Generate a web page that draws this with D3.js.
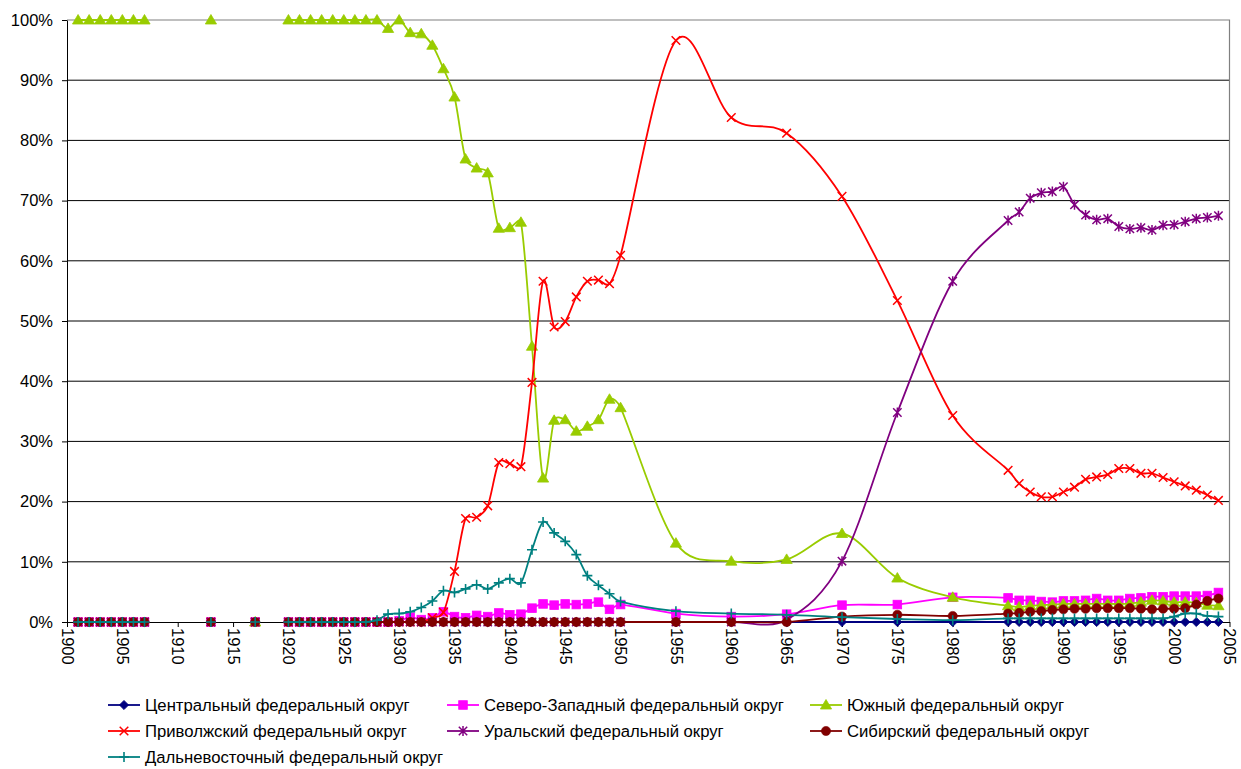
<!DOCTYPE html>
<html>
<head>
<meta charset="utf-8">
<script src="https://cdn.jsdelivr.net/npm/d3@7"></script>
<style>
  html, body { margin: 0; padding: 0; background: #fff; }
  svg { display: block; font-family: "Liberation Sans", Arial, sans-serif; }
</style>
</head>
<body>
<svg id="chart" width="1241" height="769"></svg>
<script>
const N = null;
// Years (rows with null = empty cells in the source table)
const years = [1901,1902,1903,1904,1905,1906,1907,1908,1909,1910,1911,1912,1913,1914,1915,1916,1917,1918,1919,
  1920,1921,1922,1923,1924,1925,1926,1927,1928,1929,1930,1931,1932,1933,1934,1935,1936,1937,1938,1939,1940,
  1941,1942,1943,1944,1945,1946,1947,1948,1949,1950,
  1955,1960,1965,1970,1975,1980,
  1985,1986,1987,1988,1989,1990,1991,1992,1993,1994,1995,1996,1997,1998,1999,2000,2001,2002,2003,2004];

const central = [0,0,0,0,0,0,0,N,N,N,N,N,0,N,N,N,0,N,N,
  0,0,0,0,0,0,0,0,0,0,0,0,0,0,0,0,0,0,0,0,0,
  0,0,0,0,0,0,0,0,0,0,
  0,0,0,0,0,0,
  0,0,0,0,0,0,0,0,0,0,0,0,0,0,0,0,0,0,0,0];

const northWest = [0,0,0,0,0,0,0,N,N,N,N,N,0,N,N,N,0,N,N,
  0,0,0,0,0,0,0,0,0,0,0.2,0.8,0.4,0.7,1.7,0.9,0.7,1.1,0.9,1.5,1.2,
  1.3,2.3,3.0,2.8,3.0,2.9,3.0,3.3,2.1,2.9,
  1.4,0.9,1.3,2.8,2.9,4.1,
  4.0,3.6,3.6,3.4,3.3,3.5,3.5,3.6,3.9,3.6,3.6,3.9,4.0,4.2,4.2,4.3,4.3,4.3,4.4,4.9];

const south = [100,100,100,100,100,100,100,N,N,N,N,N,100,N,N,N,0,N,N,
  100,100,100,100,100,100,100,100,100,98.6,100,97.9,97.7,95.8,91.9,87.2,76.9,75.4,74.6,65.4,65.5,
  66.4,45.8,23.9,33.5,33.6,31.7,32.5,33.6,37.0,35.6,
  13.1,10.1,10.4,14.7,7.3,4.1,
  2.7,2.5,2.7,2.8,2.9,3.0,3.0,3.0,3.0,3.0,3.0,3.1,3.3,3.6,3.5,3.3,3.3,3.2,2.8,2.7];

const volga = [0,0,0,0,0,0,0,N,N,N,N,N,0,N,N,N,0,N,N,
  0,0,0,0,0,0,0,0,0,0,0,0,0,0.7,1.6,8.4,17.2,17.4,19.3,26.5,26.3,
  25.8,39.8,56.6,49.0,49.9,54.0,56.6,56.8,56.2,60.9,
  96.6,83.8,81.2,70.7,53.4,34.3,
  25.2,23.0,21.6,20.8,20.8,21.6,22.4,23.7,24.1,24.5,25.5,25.5,24.7,24.7,24.0,23.3,22.6,21.9,21.1,20.2];

const ural = [0,0,0,0,0,0,0,N,N,N,N,N,0,N,N,N,0,N,N,
  0,0,0,0,0,0,0,0,0,0,0,0,0,0,0,0,0,0,0,0,0,
  0,0,0,0,0,0,0,0,0,0,
  0,0,0.4,10.1,34.8,56.6,
  66.7,68.1,70.4,71.3,71.5,72.3,69.3,67.6,66.8,67.0,65.7,65.3,65.5,65.1,65.9,66.0,66.5,67.0,67.2,67.5];

const siberia = [0,0,0,0,0,0,0,N,N,N,N,N,0,N,N,N,0,N,N,
  0,0,0,0,0,0,0,0,0,0,0,0,0,0,0,0,0,0,0,0,0,
  0,0,0,0,0,0,0,0,0,0,
  0,0,0,0.9,1.2,1.0,
  1.4,1.5,1.7,1.8,2.0,2.1,2.2,2.2,2.3,2.3,2.3,2.3,2.2,2.1,2.2,2.2,2.3,2.9,3.5,3.9];

const farEast = [0,0,0,0,0,0,0,N,N,N,N,N,0,N,N,N,0,N,N,
  0,0,0,0,0,0,0,0,0.3,1.3,1.4,1.7,2.4,3.5,5.2,4.9,5.5,6.2,5.5,6.5,7.2,
  6.5,12.0,16.6,14.8,13.4,11.2,7.7,6.1,4.7,3.4,
  1.8,1.4,1.2,0.8,0.5,0.3,
  0.6,0.6,0.6,0.6,0.6,0.6,0.6,0.6,0.6,0.6,0.6,0.6,0.6,0.6,0.6,0.9,1.4,1.4,1.0,0.9];

const seriesNames = [
  "Центральный федеральный округ",
  "Северо-Западный федеральный округ",
  "Южный федеральный округ",
  "Приволжский федеральный округ",
  "Уральский федеральный округ",
  "Сибирский федеральный округ",
  "Дальневосточный федеральный округ"
];
const seriesValues = [central, northWest, south, volga, ural, siberia, farEast];
const seriesColors = ["#000080", "#FF00FF", "#99CC00", "#FF0000", "#800080", "#800000", "#008080"];
const seriesMarkers = ["diamond", "square", "triangle", "x", "star", "circle", "plus"];

const yTicks = [0,10,20,30,40,50,60,70,80,90,100];
const xTicks = [1900,1905,1910,1915,1920,1925,1930,1935,1940,1945,1950,1955,1960,1965,1970,1975,1980,1985,1990,1995,2000,2005];

// ---------- layout ----------
const AXIS_FONT = 16.5, LEGEND_FONT = 16.7;
const svg = d3.select("#chart");
const L = 67, R = 1229.5, T = 20, B = 622;
const x = d3.scaleLinear().domain([1900, 2005]).range([L, R]);
const y = d3.scaleLinear().domain([0, 100]).range([B, T]);

// gridlines
svg.append("g").selectAll("line").data(yTicks.filter(d => d > 0 && d < 100)).join("line")
  .attr("x1", L).attr("x2", R).attr("y1", d => y(d)).attr("y2", d => y(d))
  .attr("stroke", "#000").attr("stroke-width", 1);
// plot border (top/right)
svg.append("path")
  .attr("d", `M${L},${y(100)}H${R}V${B}`)
  .attr("fill", "none").attr("stroke", "#808080").attr("stroke-width", 1.2);

// axes
const yAxis = svg.append("g").attr("transform", `translate(${L},0)`)
  .call(d3.axisLeft(y).tickValues(yTicks).tickFormat(d => d + "%").tickSize(5).tickSizeOuter(0));
yAxis.select(".domain").attr("stroke", "#000");
yAxis.selectAll(".tick line").attr("stroke", "#000");
yAxis.selectAll("text").attr("font-size", AXIS_FONT).attr("fill", "#000").attr("x", -14)
  .attr("font-family", "'Liberation Sans', Arial, sans-serif");

const xAxis = svg.append("g").attr("transform", `translate(0,${B})`)
  .call(d3.axisBottom(x).tickValues(xTicks).tickFormat(d3.format("d")).tickSize(5).tickSizeOuter(0));
xAxis.select(".domain").attr("stroke", "#000");
xAxis.selectAll(".tick line").attr("stroke", "#000");
xAxis.selectAll("text")
  .attr("font-size", AXIS_FONT).attr("fill", "#000")
  .attr("font-family", "'Liberation Sans', Arial, sans-serif")
  .attr("x", 6).attr("y", 0).attr("dy", "0.35em")
  .attr("transform", "rotate(90)")
  .attr("text-anchor", "start");

// ---------- markers ----------
function drawMarker(g, type, color, cx, cy) {
  const s = 4.6;
  switch (type) {
    case "diamond":
      g.append("path").attr("d", `M${cx},${cy-s}L${cx+s},${cy}L${cx},${cy+s}L${cx-s},${cy}Z`)
        .attr("fill", color).attr("stroke", color).attr("stroke-width", 0.8);
      break;
    case "square":
      g.append("rect").attr("x", cx-4.3).attr("y", cy-4.3).attr("width", 8.6).attr("height", 8.6)
        .attr("fill", color).attr("stroke", color).attr("stroke-width", 0.8);
      break;
    case "triangle":
      g.append("path").attr("d", `M${cx},${cy-5.5}L${cx+5.6},${cy+4}L${cx-5.6},${cy+4}Z`)
        .attr("fill", color).attr("stroke", color).attr("stroke-width", 0.8);
      break;
    case "x":
      g.append("path").attr("d", `M${cx-4.3},${cy-4.3}L${cx+4.3},${cy+4.3}M${cx-4.3},${cy+4.3}L${cx+4.3},${cy-4.3}`)
        .attr("fill", "none").attr("stroke", color).attr("stroke-width", 1.5);
      break;
    case "star":
      g.append("path").attr("d", `M${cx-4.2},${cy-4.2}L${cx+4.2},${cy+4.2}M${cx-4.2},${cy+4.2}L${cx+4.2},${cy-4.2}M${cx},${cy-5}L${cx},${cy+5}`)
        .attr("fill", "none").attr("stroke", color).attr("stroke-width", 1.5);
      break;
    case "circle":
      g.append("circle").attr("cx", cx).attr("cy", cy).attr("r", 4.6)
        .attr("fill", color).attr("stroke", color).attr("stroke-width", 0.6);
      break;
    case "plus":
      g.append("path").attr("d", `M${cx-5},${cy}L${cx+5},${cy}M${cx},${cy-5}L${cx},${cy+5}`)
        .attr("fill", "none").attr("stroke", color).attr("stroke-width", 1.6);
      break;
  }
}

// ---------- spreadsheet-style smoothing curve (Catmull-Rom tangents, arms limited by segment length) ----------
function SmoothCurve(context) { this._context = context; }
SmoothCurve.prototype = {
  areaStart() { this._line = 0; },
  areaEnd() { this._line = NaN; },
  lineStart() { this._pts = []; },
  point(px, py) { this._pts.push([+px, +py]); },
  lineEnd() {
    const p = this._pts, n = p.length, c = this._context;
    if (!n) return;
    c.moveTo(p[0][0], p[0][1]);
    if (n === 1) return;
    const K = 0.5;
    const tan = p.map((pt, i) => {
      const a = p[Math.max(0, i - 1)], b = p[Math.min(n - 1, i + 1)];
      return [(b[0] - a[0]) / 6, (b[1] - a[1]) / 6];
    });
    const clampArm = (v, segLen) => {
      const len = Math.hypot(v[0], v[1]);
      const max = K * segLen;
      if (len <= max || len === 0) return v;
      return [v[0] * max / len, v[1] * max / len];
    };
    for (let i = 0; i < n - 1; i++) {
      const a = p[i], b = p[i + 1];
      const seg = Math.hypot(b[0] - a[0], b[1] - a[1]);
      const out = clampArm(tan[i], seg);
      const inn = clampArm(tan[i + 1], seg);
      c.bezierCurveTo(a[0] + out[0], a[1] + out[1], b[0] - inn[0], b[1] - inn[1], b[0], b[1]);
    }
  }
};
const smoothCurve = context => new SmoothCurve(context);

// ---------- series ----------
const line = d3.line()
  .defined(d => d.v != null)
  .x(d => x(d.year))
  .y(d => y(d.v))
  .curve(smoothCurve);

seriesNames.forEach((name, i) => {
  const data = years.map((yr, j) => ({ year: yr, v: seriesValues[i][j] }));
  const g = svg.append("g");
  g.append("path").datum(data).attr("d", line)
    .attr("fill", "none").attr("stroke", seriesColors[i]).attr("stroke-width", 1.8);
  data.filter(d => d.v != null).forEach(d => drawMarker(g, seriesMarkers[i], seriesColors[i], x(d.year), y(d.v)));
});

// ---------- legend ----------
const legCols = [108, 447, 810];
const legRows = [705, 731, 757];
const legend = svg.append("g");
seriesNames.forEach((name, i) => {
  const cx = legCols[i % 3], cy = legRows[Math.floor(i / 3)];
  const g = legend.append("g");
  g.append("line").attr("x1", cx).attr("x2", cx + 32).attr("y1", cy).attr("y2", cy)
    .attr("stroke", seriesColors[i]).attr("stroke-width", 1.8);
  drawMarker(g, seriesMarkers[i], seriesColors[i], cx + 16, cy);
  g.append("text").attr("x", cx + 37).attr("y", cy).attr("dy", "0.35em")
    .attr("font-size", LEGEND_FONT).attr("fill", "#000").text(name);
});
</script>
</body>
</html>
